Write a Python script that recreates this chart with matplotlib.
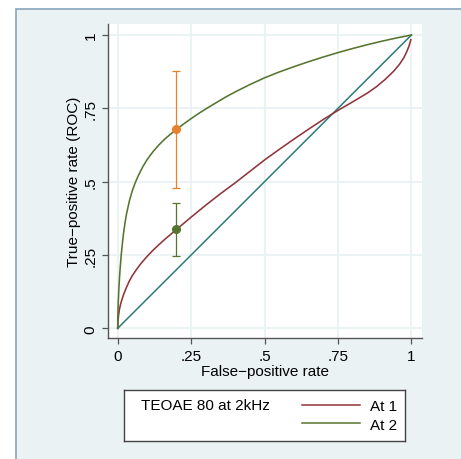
import matplotlib
matplotlib.use('Agg')
import matplotlib.pyplot as plt
from matplotlib.patches import Rectangle
from matplotlib.lines import Line2D

plt.rcParams['font.family'] = ['Liberation Sans', 'DejaVu Sans']

# ROC curve "At 1"
fpr_1 = [0, 0.001, 0.003, 0.006, 0.01, 0.015, 0.02, 0.03, 0.04, 0.05, 0.065,
         0.08, 0.1, 0.12, 0.14, 0.16, 0.18, 0.2, 0.25, 0.3, 0.35, 0.4, 0.45, 0.5,
         0.55, 0.6, 0.65, 0.7, 0.75, 0.8, 0.85, 0.88, 0.91, 0.94, 0.96, 0.975,
         0.985, 0.992, 0.998]
tpr_1 = [0, 0.025, 0.045, 0.065, 0.083, 0.10, 0.115, 0.14, 0.162, 0.18, 0.202,
         0.222, 0.245, 0.266, 0.285, 0.303, 0.32, 0.337, 0.379, 0.42, 0.459, 0.496, 0.535, 0.574,
         0.61, 0.645, 0.679, 0.712, 0.743, 0.772, 0.802, 0.823, 0.848, 0.877, 0.901, 0.924,
         0.945, 0.963, 0.984]

# ROC curve "At 2"
fpr_2 = [0, 0.0005, 0.001, 0.002, 0.004, 0.006, 0.008, 0.012, 0.016, 0.02, 0.025,
         0.03, 0.04, 0.05, 0.06, 0.07, 0.085, 0.1, 0.12, 0.14, 0.16, 0.18, 0.2,
         0.225, 0.25, 0.275, 0.3, 0.33, 0.365, 0.4, 0.45, 0.5, 0.55, 0.6, 0.65,
         0.7, 0.75, 0.8, 0.85, 0.9, 0.95, 1.0]
tpr_2 = [0, 0.04, 0.06, 0.09, 0.135, 0.17, 0.20, 0.25, 0.29, 0.325, 0.36,
         0.39, 0.435, 0.47, 0.497, 0.52, 0.55, 0.575, 0.602, 0.625, 0.645, 0.662, 0.678,
         0.697, 0.715, 0.732, 0.748, 0.766, 0.787, 0.806, 0.831, 0.854, 0.874, 0.892, 0.909,
         0.925, 0.94, 0.954, 0.967, 0.979, 0.99, 1.0]

# operating points with confidence intervals
pt_x = [0.2, 0.2]
pt_y = [0.678, 0.337]
pt_lo = [0.478, 0.245]
pt_hi = [0.878, 0.428]
pt_colors = ['#e8822a', '#55752f']

ticks = [0, 0.25, 0.5, 0.75, 1]
tick_labels = ['0', '.25', '.5', '.75', '1']

W, H = 461, 460
fig = plt.figure(figsize=(W / 100, H / 100), dpi=100)
fig.patch.set_facecolor('white')

# light blue graph region with border
fig.patches.append(Rectangle((16 / W, -0.01), 1.0, (H - 9.5) / H + 0.01,
                             transform=fig.transFigure, facecolor='#eaf2f3',
                             edgecolor='#86a6bb', linewidth=1.2, zorder=-10))

ax = fig.add_axes([108 / W, 1 - 339.3 / H, 313.7 / W, 314.3 / H])
ax.set_facecolor('white')
ax.set_xlim(-0.033, 1.035)
ax.set_ylim(-0.034, 1.0375)

ax.set_xticks(ticks)
ax.set_xticklabels(tick_labels)
ax.set_yticks(ticks)
ax.set_yticklabels(tick_labels, rotation=90, va='center')
ax.grid(True, color='#eaf2f3', linewidth=1.3)
ax.set_axisbelow(True)

for side in ['top', 'right']:
    ax.spines[side].set_visible(False)
for side in ['left', 'bottom']:
    ax.spines[side].set_color('#555555')
    ax.spines[side].set_linewidth(1.0)
ax.tick_params(direction='out', length=4.5, width=0.9, color='#555555',
               labelsize=11, pad=3)

ax.plot([0, 1], [0, 1], color='#2b7b78', linewidth=1.1, zorder=3)
ax.plot(fpr_1, tpr_1, color='#90353b', linewidth=1.15, zorder=4)
ax.plot(fpr_2, tpr_2, color='#55752f', linewidth=1.15, zorder=4)

for x, y, lo, hi, c in zip(pt_x, pt_y, pt_lo, pt_hi, pt_colors):
    ax.errorbar([x], [y], yerr=[[y - lo], [hi - y]], fmt='o', color=c,
                markersize=5.5, elinewidth=0.9, capsize=3, capthick=0.9, zorder=5)

ax.set_xlabel('False\u2212positive rate', fontsize=11, labelpad=1)
ax.set_ylabel('True\u2212positive rate (ROC)', fontsize=11, labelpad=2)

# legend box
lax = fig.add_axes([124.3 / W, 1 - 442.3 / H, 280.7 / W, 51.6 / H])
lax.set_xticks([])
lax.set_yticks([])
lax.set_facecolor('white')
for s in lax.spines.values():
    s.set_color('#444444')
    s.set_linewidth(1.0)
lax.text(16.4 / 280.7, 1 - 15 / 51.6, 'TEOAE 80 at 2kHz', fontsize=11,
         va='center', ha='left', transform=lax.transAxes)
handles = [Line2D([], [], color='#90353b', linewidth=1.1),
           Line2D([], [], color='#55752f', linewidth=1.1)]
lax.legend(handles, ['At 1', 'At 2'], loc='center right', frameon=False,
           fontsize=11, handlelength=3.8, handletextpad=0.65,
           labelspacing=0.3, borderaxespad=0.1)

fig.savefig('out.png', dpi=100)
